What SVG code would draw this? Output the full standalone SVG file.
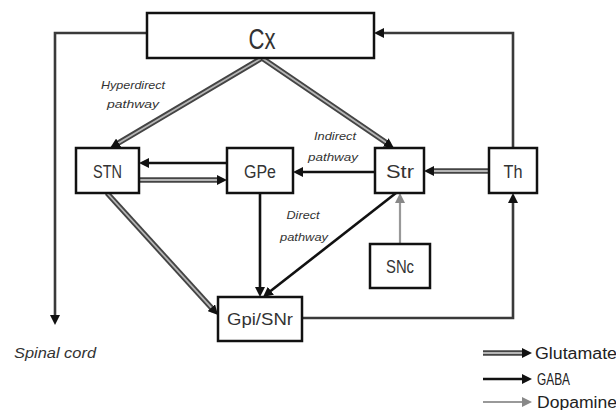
<svg xmlns="http://www.w3.org/2000/svg" width="616" height="410" viewBox="0 0 616 410">
<style>
.box{fill:#fff;stroke:#111;stroke-width:2.5}
.lbl{font-family:"Liberation Sans",Arial,sans-serif;fill:#333;text-anchor:middle}
.it{font-family:"Liberation Sans",Arial,sans-serif;font-style:italic;fill:#333;text-anchor:middle}
.leg{font-family:"Liberation Sans",Arial,sans-serif;fill:#222;font-size:16px}
.gluO{fill:none;stroke:#444;stroke-width:5.5}
.gluI{fill:none;stroke:#b5b5b5;stroke-width:1.8;marker-end:url(#ah)}
.gaba{fill:none;stroke:#111;stroke-width:2.6;marker-end:url(#ah)}
.dark{fill:none;stroke:#3a3a3a;stroke-width:2.6;marker-end:url(#ah)}
.dopa{fill:none;stroke:#999;stroke-width:2.2;marker-end:url(#ahg)}
</style>
<defs>
<marker id="ah" markerUnits="userSpaceOnUse" markerWidth="10" markerHeight="10" refX="4" refY="5" orient="auto" viewBox="0 0 10 10">
<path d="M0,0 L10,5 L0,10 z" fill="#111"/>
</marker>
<marker id="ahg" markerUnits="userSpaceOnUse" markerWidth="10" markerHeight="10" refX="4" refY="5" orient="auto" viewBox="0 0 10 10">
<path d="M0,0 L10,5 L0,10 z" fill="#888"/>
</marker>
</defs>
<rect width="616" height="410" fill="#fff"/>
<g id="connectors">
<polyline class="dark" points="147,33 55,33 55,319"/>
<polyline class="dark" points="513,148 513,33 380,33"/>
<polyline class="dark" points="302,318 513,318 513,199"/>
<line class="gluO" x1="262" y1="58" x2="115.2" y2="144.9"/>
<line class="gluI" x1="262" y1="58" x2="115.2" y2="144.9"/>
<line class="gluO" x1="262" y1="58" x2="389" y2="144.6"/>
<line class="gluI" x1="262" y1="58" x2="389" y2="144.6"/>
<line class="gaba" x1="227" y1="163" x2="145" y2="163"/>
<line class="gluO" x1="139" y1="180" x2="221" y2="180"/>
<line class="gluI" x1="139" y1="180" x2="221" y2="180"/>
<line class="gaba" x1="375" y1="172" x2="299" y2="172"/>
<line class="gluO" x1="489" y1="171" x2="430" y2="171"/>
<line class="gluI" x1="489" y1="171" x2="430" y2="171"/>
<line class="dopa" x1="400" y1="244" x2="400" y2="199"/>
<line class="gaba" x1="260" y1="193" x2="260" y2="291"/>
<line class="gaba" x1="396" y1="193" x2="267.7" y2="293.3"/>
<line class="gluO" x1="107" y1="193" x2="214" y2="310.6"/>
<line class="gluI" x1="107" y1="193" x2="214" y2="310.6"/>
</g>
<g id="Cx"><rect class="box" x="147" y="13" width="227" height="45"/><text class="lbl" x="262" y="49" font-size="30" textLength="27" lengthAdjust="spacingAndGlyphs">Cx</text></g>
<g id="STN"><rect class="box" x="76" y="148" width="63" height="45"/><text class="lbl" x="107.5" y="178" font-size="18" textLength="29" lengthAdjust="spacingAndGlyphs">STN</text></g>
<g id="GPe"><rect class="box" x="227" y="148" width="66" height="45"/><text class="lbl" x="260" y="178" font-size="18" textLength="32" lengthAdjust="spacingAndGlyphs">GPe</text></g>
<g id="Str"><rect class="box" x="375" y="148" width="49" height="45"/><text class="lbl" x="400" y="178" font-size="18" textLength="28" lengthAdjust="spacingAndGlyphs">Str</text></g>
<g id="Th"><rect class="box" x="489" y="148" width="48" height="45"/><text class="lbl" x="513" y="178" font-size="18" textLength="19" lengthAdjust="spacingAndGlyphs">Th</text></g>
<g id="SNc"><rect class="box" x="370" y="244" width="60" height="44"/><text class="lbl" x="400" y="273" font-size="18" textLength="28" lengthAdjust="spacingAndGlyphs">SNc</text></g>
<g id="GpiSNr"><rect class="box" x="218" y="297" width="84" height="44"/><text class="lbl" x="260" y="325" font-size="17" textLength="66" lengthAdjust="spacingAndGlyphs">Gpi/SNr</text></g>
<g id="labels">
<text class="it" x="133" y="89" font-size="11" textLength="64" lengthAdjust="spacingAndGlyphs">Hyperdirect</text>
<text class="it" x="133" y="108" font-size="11" textLength="52" lengthAdjust="spacingAndGlyphs">pathway</text>
<text class="it" x="335" y="140" font-size="11" textLength="42" lengthAdjust="spacingAndGlyphs">Indirect</text>
<text class="it" x="333" y="161" font-size="11" textLength="50" lengthAdjust="spacingAndGlyphs">pathway</text>
<text class="it" x="303" y="219" font-size="11" textLength="33" lengthAdjust="spacingAndGlyphs">Direct</text>
<text class="it" x="304" y="241" font-size="11" textLength="48" lengthAdjust="spacingAndGlyphs">pathway</text>
<text class="it" x="55" y="358" font-size="14" textLength="82" lengthAdjust="spacingAndGlyphs">Spinal cord</text>
</g>
<g id="legend">
<line class="gluO" x1="483" y1="353" x2="526" y2="353"/>
<line class="gluI" x1="483" y1="353" x2="526" y2="353"/>
<line class="gaba" x1="483" y1="379" x2="526" y2="379"/>
<line class="dopa" x1="483" y1="402" x2="526" y2="402"/>
<text class="leg" x="535" y="359" textLength="82" lengthAdjust="spacingAndGlyphs">Glutamate</text>
<text class="leg" x="537" y="385" textLength="33" lengthAdjust="spacingAndGlyphs">GABA</text>
<text class="leg" x="537" y="408" textLength="80" lengthAdjust="spacingAndGlyphs">Dopamine</text>
</g>
</svg>
